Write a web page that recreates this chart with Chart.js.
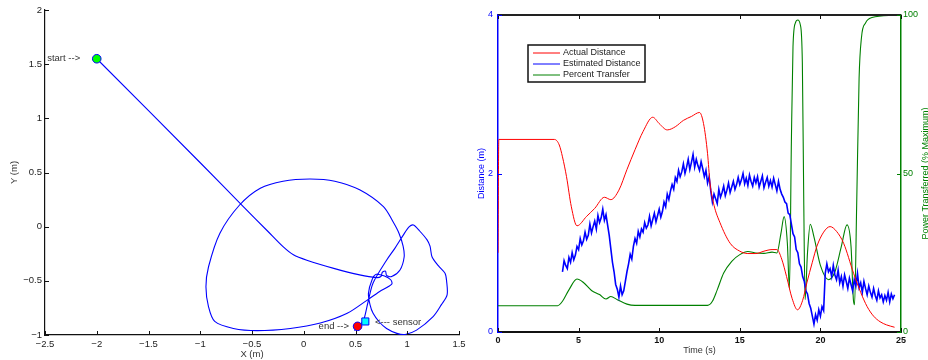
<!DOCTYPE html>
<html>
<head>
<meta charset="utf-8">
<script src="https://cdn.jsdelivr.net/npm/chart.js@4.4.0/dist/chart.umd.min.js"></script>
<style>
html,body{margin:0;padding:0;background:#fff;overflow:hidden;}
#izq{position:absolute;left:0;top:0;width:470px;height:360px;}
#der{position:absolute;left:470px;top:0;width:461px;height:360px;}
</style>
</head>
<body>
<div id="izq"><canvas id="grafTrayecto"></canvas></div>
<div id="der"><canvas id="grafDistancia"></canvas></div>
<script>

// ---- trayectoria (X,Y en metros) ----
var trayX = [-2.0, -1.0, -0.584, -0.35, -0.2, -0.1, 0.03, 0.29, 0.54, 0.70, 0.745, 0.76, 0.79, 0.80, 0.85, 0.93, 0.97, 0.96, 0.92, 0.86, 0.77, 0.54, 0.30, 0.06, -0.2, -0.42, -0.62, -0.81, -0.92, -0.945, -0.92, -0.86, -0.68, -0.45, -0.13, 0.16, 0.42, 0.61, 0.73, 0.85, 0.84, 0.78, 0.70, 0.66, 0.625, 0.64, 0.67, 0.73, 0.80, 0.90, 0.98, 1.09, 1.25, 1.33, 1.385, 1.38, 1.365, 1.30, 1.24, 1.22, 1.19, 1.12, 1.06, 1.02, 0.96, 0.88, 0.80, 0.67, 0.62, 0.58, 0.55, 0.51, 0.49];
var trayY = [1.55, 0.59, 0.185, -0.04, -0.185, -0.26, -0.31, -0.385, -0.445, -0.47, -0.46, -0.42, -0.41, -0.45, -0.46, -0.40, -0.28, -0.18, -0.06, 0.05, 0.185, 0.34, 0.42, 0.44, 0.42, 0.355, 0.2, -0.06, -0.37, -0.555, -0.74, -0.875, -0.94, -0.96, -0.94, -0.89, -0.80, -0.68, -0.60, -0.53, -0.49, -0.455, -0.44, -0.49, -0.615, -0.72, -0.80, -0.88, -0.94, -0.985, -0.995, -0.955, -0.83, -0.72, -0.63, -0.50, -0.43, -0.36, -0.28, -0.18, -0.12, -0.04, 0.015, 0.0, -0.08, -0.2, -0.31, -0.52, -0.70, -0.86, -0.90, -0.93, -0.96];

var inicioX = [-2.0], inicioY = [1.55];
var finX = [0.52], finY = [-0.92];
var sensorX = [0.595], sensorY = [-0.875];

var notaTexto = ['start -->', 'end -->', '<--- sensor'];
var notaX = [-2.16, 0.437, 0.688];
var notaY = [1.55, -0.92, -0.88];
var notaAlinea = ['right', 'right', 'left'];

// ---- distancia vs tiempo ----
var realT = [0, 0.05, 3.5, 3.8, 4.0, 4.25, 4.55, 4.9, 5.5, 6.0, 6.6, 7.0, 7.5, 8.0, 8.5, 9.0, 9.6, 10.0, 10.5, 11.0, 11.5, 12.0, 12.5, 12.75, 13.0, 13.15, 13.4, 13.77, 14.4, 15.0, 15.5, 16.0, 16.5, 17.0, 17.3, 17.6, 17.9, 18.25, 18.58, 18.9, 19.16, 19.5, 19.78, 20.2, 20.6, 21.0, 21.44, 22.06, 22.5, 22.9, 23.3, 23.7, 24.1, 24.6];
var realD = [1.0, 2.43, 2.43, 2.36, 2.21, 1.96, 1.58, 1.34, 1.46, 1.56, 1.70, 1.67, 1.79, 2.05, 2.30, 2.53, 2.71, 2.63, 2.55, 2.59, 2.67, 2.72, 2.77, 2.63, 2.25, 1.88, 1.60, 1.38, 1.12, 1.02, 0.99, 0.99, 1.02, 1.04, 1.04, 0.92, 0.70, 0.42, 0.28, 0.40, 0.62, 0.88, 1.08, 1.26, 1.33, 1.27, 1.12, 0.74, 0.50, 0.32, 0.20, 0.13, 0.09, 0.06];

// muestras cada 0.1 s desde t = 4.0
var estInicio = 4.0, estPaso = 0.1;
var estD = [
  0.76,0.90,0.84,0.80,0.94,0.88,1.00,0.91,0.97,1.08,
  1.04,1.18,1.10,1.15,1.26,1.17,1.22,1.36,1.25,1.33,
  1.40,1.30,1.47,1.38,1.44,1.55,1.41,1.48,1.35,1.22,
  1.05,0.88,0.76,0.60,0.54,0.44,0.58,0.47,0.52,0.64,
  0.76,0.86,0.98,0.92,1.08,1.18,1.12,1.27,1.20,1.30,
  1.26,1.38,1.31,1.35,1.46,1.34,1.42,1.50,1.39,1.47,
  1.55,1.45,1.52,1.64,1.58,1.74,1.67,1.78,1.86,1.80,
  1.95,1.90,2.04,1.96,2.02,2.12,2.00,2.08,2.18,2.05,
  2.14,2.24,2.08,2.18,2.10,2.04,2.15,2.06,1.96,2.04,
  1.88,1.96,1.78,1.64,1.74,1.68,1.62,1.80,1.70,1.76,
  1.84,1.72,1.79,1.88,1.76,1.83,1.90,1.80,1.86,1.95,
  1.86,1.92,2.00,1.87,1.94,1.85,1.98,1.90,1.84,1.95,
  1.88,1.96,1.83,1.90,1.97,1.82,1.89,1.95,1.84,1.91,
  1.83,1.94,1.86,1.78,1.90,1.80,1.74,1.70,1.64,1.62,
  1.50,1.48,1.36,1.24,1.20,1.04,1.00,0.86,0.82,0.70,
  0.64,0.52,0.48,0.36,0.30,0.20,0.10,0.22,0.15,0.28,
  0.20,0.32,0.27,0.74,0.86,0.76,0.80,0.70,0.84,0.72,
  0.66,0.78,0.62,0.70,0.58,0.72,0.64,0.55,0.68,0.60,
  0.52,0.66,0.58,0.74,0.56,0.62,0.50,0.64,0.55,0.47,
  0.58,0.50,0.44,0.55,0.46,0.40,0.52,0.43,0.47,0.38,
  0.46,0.40,0.50,0.38,0.48,0.42,0.47
];

var pctT = [0, 3.7, 4.0, 4.4, 4.9, 5.3, 5.8, 6.3, 6.7, 7.0, 7.4, 8.0, 8.5, 13.0, 13.3, 13.6, 14.0, 14.5, 15.0, 15.5, 16.0, 16.5, 17.0, 17.3, 17.55, 17.75, 17.95, 18.08, 18.2, 18.3, 18.45, 18.6, 18.75, 18.88, 18.97, 19.05, 19.2, 19.37, 19.6, 20.0, 20.5, 20.9, 21.3, 21.65, 21.9, 22.05, 22.12, 22.25, 22.4, 22.55, 22.8, 23.2, 24.6];
var pctV = [8.3, 8.3, 9.7, 13.3, 16.7, 15.6, 13.1, 11.8, 10.4, 11.2, 10.2, 8.8, 8.4, 8.4, 9.7, 13.3, 18.6, 22.3, 24.4, 25.4, 24.9, 24.8, 25.2, 24.9, 31, 36.4, 28, 13.5, 60, 90, 97.5, 98.4, 97, 85, 40, 10.2, 25, 34, 30, 21, 16.5, 19, 27, 33.8, 27, 10, 8.6, 40, 80, 93, 97.5, 99.2, 99.9];

var etiquetas = ['Actual Distance', 'Estimated Distance', 'Percent Transfer'];
var tituloDerecho = 'Power Transferred (% Maximum)';

function puntos(xs, ys){
    var r = [];
    for (var i = 0; i < xs.length; i++) r.push({x: xs[i], y: ys[i]});
    return r;
}

var estPuntos = [];
for (var i = 0; i < estD.length; i++) estPuntos.push({x: estInicio + i*estPaso, y: estD[i]});

function menos(v){ return String(v).replace('-', '\u2212'); }

var fuente = '"Liberation Sans", Arial, sans-serif';

// marcas de ticks hacia adentro (estilo matlab)
var marcasTicks = {
    id: 'marcasTicks',
    afterDatasetsDraw: function(chart, args, opts){
        var ctx = chart.ctx, a = chart.chartArea;
        ctx.save();
        if (opts.bordeArriba){
            ctx.strokeStyle = opts.bordeArriba;
            ctx.lineWidth = 2;
            ctx.beginPath(); ctx.moveTo(a.left, a.top); ctx.lineTo(a.right, a.top); ctx.stroke();
        }
        (opts.ejes || []).forEach(function(e){
            var sc = chart.scales[e.id];
            ctx.strokeStyle = e.color;
            ctx.lineWidth = 1;
            sc.ticks.forEach(function(t){
                var p = Math.round(sc.getPixelForValue(t.value)) + 0.5;
                ctx.beginPath();
                if (e.lado == 'abajo'){ ctx.moveTo(p, a.bottom); ctx.lineTo(p, a.bottom - 4); }
                if (e.lado == 'arriba'){ ctx.moveTo(p, a.top); ctx.lineTo(p, a.top + 4); }
                if (e.lado == 'izq'){ ctx.moveTo(a.left, p); ctx.lineTo(a.left + 4, p); }
                if (e.lado == 'der'){ ctx.moveTo(a.right, p); ctx.lineTo(a.right - 4, p); }
                ctx.stroke();
            });
        });
        ctx.restore();
    }
};

var notas = {
    id: 'notas',
    afterDatasetsDraw: function(chart){
        var ctx = chart.ctx;
        var sx = chart.scales.x, sy = chart.scales.y;
        ctx.save();
        ctx.font = '9.5px ' + fuente;
        ctx.fillStyle = '#333';
        ctx.textBaseline = 'middle';
        for (var i = 0; i < notaTexto.length; i++){
            ctx.textAlign = notaAlinea[i];
            ctx.fillText(notaTexto[i], sx.getPixelForValue(notaX[i]), sy.getPixelForValue(notaY[i]));
        }
        ctx.restore();
    }
};

var leyenda = {
    id: 'leyenda',
    afterDatasetsDraw: function(chart){
        var ctx = chart.ctx, a = chart.chartArea;
        var x0 = a.left + 30, y0 = a.top + 30, w = 117, h = 37;
        ctx.save();
        ctx.fillStyle = '#fff';
        ctx.fillRect(x0, y0, w, h);
        ctx.strokeStyle = '#111';
        ctx.lineWidth = 1.5;
        ctx.strokeRect(x0, y0, w, h);
        ctx.font = '9px ' + fuente;
        ctx.textBaseline = 'middle';
        ctx.textAlign = 'left';
        var ds = chart.data.datasets;
        for (var i = 0; i < ds.length; i++){
            var yy = y0 + 8 + i*11;
            ctx.strokeStyle = ds[i].borderColor;
            ctx.lineWidth = 1;
            ctx.beginPath(); ctx.moveTo(x0 + 5, yy); ctx.lineTo(x0 + 32, yy); ctx.stroke();
            ctx.fillStyle = '#222';
            ctx.fillText(ds[i].label, x0 + 35, yy);
        }
        // titulo del eje derecho, leido de abajo hacia arriba
        ctx.translate(chart.width - 5.5, (a.top + a.bottom) / 2);
        ctx.rotate(-Math.PI / 2);
        ctx.textAlign = 'center';
        ctx.fillStyle = '#008000';
        ctx.fillText(tituloDerecho, 0, 0);
        ctx.restore();
    }
};

new Chart(document.getElementById('grafTrayecto'), {
    type: 'scatter',
    data: {
        datasets: [
            {data: puntos(inicioX, inicioY), pointRadius: 4.3, pointBackgroundColor: '#00ff00', pointBorderColor: '#0000ff', pointBorderWidth: 1},
            {data: puntos(finX, finY), pointRadius: 4.3, pointBackgroundColor: '#ff0000', pointBorderColor: '#0000ff', pointBorderWidth: 1},
            {data: puntos(sensorX, sensorY), pointStyle: 'rect', pointRadius: 5, pointBackgroundColor: '#00ffff', pointBorderColor: '#0000ff', pointBorderWidth: 1},
            {data: puntos(trayX, trayY), showLine: true, pointRadius: 0, borderColor: '#0000ff', borderWidth: 1.1, tension: 0.3}
        ]
    },
    plugins: [marcasTicks, notas],
    options: {
        responsive: true,
        maintainAspectRatio: false,
        animation: false,
        layout: {padding: {top: 10, right: 11, left: 0, bottom: 0}},
        plugins: {
            legend: {display: false},
            tooltip: {enabled: false},
            marcasTicks: {ejes: [{id: 'x', lado: 'abajo', color: '#111'}, {id: 'y', lado: 'izq', color: '#111'}]}
        },
        scales: {
            x: {
                type: 'linear', min: -2.5, max: 1.5,
                afterFit: function(s){ s.height = 25; },
                grid: {drawOnChartArea: false, drawTicks: false},
                border: {color: '#111', width: 1.2},
                ticks: {stepSize: 0.5, padding: 4, color: '#222', font: {family: fuente, size: 9.5}, callback: function(v){ return menos(v); }},
                title: {display: true, text: 'X (m)', color: '#333', font: {family: fuente, size: 9.5}, padding: {top: 0, bottom: 0}}
            },
            y: {
                type: 'linear', min: -1, max: 2,
                afterFit: function(s){ s.width = 45; },
                grid: {drawOnChartArea: false, drawTicks: false},
                border: {color: '#111', width: 1.2},
                ticks: {stepSize: 0.5, padding: 3, color: '#222', font: {family: fuente, size: 9.5}, callback: function(v){ return menos(v); }},
                title: {display: true, text: 'Y (m)', color: '#333', font: {family: fuente, size: 9.5}, padding: {top: 9, bottom: 0}}
            }
        }
    }
});

new Chart(document.getElementById('grafDistancia'), {
    type: 'scatter',
    data: {
        datasets: [
            {label: etiquetas[0], data: puntos(realT, realD), yAxisID: 'y', showLine: true, pointRadius: 0, borderColor: '#ff0000', borderWidth: 1, cubicInterpolationMode: 'monotone'},
            {label: etiquetas[1], data: estPuntos, yAxisID: 'y', showLine: true, pointRadius: 0, borderColor: '#0000ff', borderWidth: 1.6, tension: 0},
            {label: etiquetas[2], data: puntos(pctT, pctV), yAxisID: 'y1', showLine: true, pointRadius: 0, borderColor: '#008000', borderWidth: 1.1, cubicInterpolationMode: 'monotone'}
        ]
    },
    plugins: [marcasTicks, leyenda],
    options: {
        responsive: true,
        maintainAspectRatio: false,
        animation: false,
        layout: {padding: {top: 15, right: 0, left: 0, bottom: 0}},
        plugins: {
            legend: {display: false},
            tooltip: {enabled: false},
            marcasTicks: {
                bordeArriba: '#222',
                ejes: [{id: 'x', lado: 'abajo', color: '#111'}, {id: 'x', lado: 'arriba', color: '#111'},
                       {id: 'y', lado: 'izq', color: '#0000ff'}, {id: 'y1', lado: 'der', color: '#008000'}]
            }
        },
        scales: {
            x: {
                type: 'linear', min: 0, max: 25,
                afterFit: function(s){ s.height = 28; },
                grid: {drawOnChartArea: false, drawTicks: false},
                border: {color: '#111', width: 2},
                ticks: {stepSize: 5, padding: 3, color: '#111', font: {family: fuente, size: 9, weight: 'bold'}},
                title: {display: true, text: 'Time (s)', color: '#333', font: {family: fuente, size: 9}, padding: {top: 0, bottom: 3.6}}
            },
            y: {
                type: 'linear', position: 'left', min: 0, max: 4,
                afterFit: function(s){ s.width = 28; },
                grid: {drawOnChartArea: false, drawTicks: false},
                border: {color: '#0000ff', width: 1.5},
                ticks: {stepSize: 2, padding: 5, color: '#0000ff', font: {family: fuente, size: 9}},
                title: {display: true, text: 'Distance (m)', color: '#0000ff', font: {family: fuente, size: 9}, padding: {top: 6.6, bottom: 0}}
            },
            y1: {
                type: 'linear', position: 'right', min: 0, max: 100,
                afterFit: function(s){ s.width = 30; },
                grid: {drawOnChartArea: false, drawTicks: false},
                border: {color: '#008000', width: 1.5},
                ticks: {stepSize: 50, padding: 2, color: '#008000', font: {family: fuente, size: 9}}
            }
        }
    }
});

</script>
</body>
</html>
